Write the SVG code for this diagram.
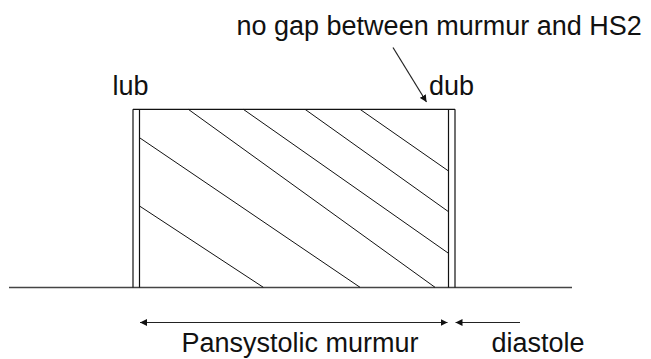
<svg xmlns="http://www.w3.org/2000/svg" width="651" height="359" viewBox="0 0 651 359">
<style>
text{font-family:"Liberation Sans",Arial,sans-serif;font-size:27px;fill:#111}
.ln{stroke:#111;stroke-width:1.2;fill:none}
.hatch{stroke:#111;stroke-width:1;fill:none}
.arr{stroke:#222;stroke-width:1.2;fill:none}
</style>
<defs>
<marker id="ah" viewBox="0 0 10 10" refX="10" refY="5" markerWidth="7" markerHeight="7" markerUnits="userSpaceOnUse" orient="auto-start-reverse">
<path d="M0,0 L10,5 L0,10 z" fill="#111"/>
</marker>
</defs>
<rect width="651" height="359" fill="#fff"/>
<g id="baseline"><line x1="9" y1="287.5" x2="572" y2="287.5" stroke="#444" stroke-width="1.6"/></g>
<g id="murmur-box">
<line class="ln" x1="133" y1="109.3" x2="455" y2="109.3"/>
<line class="ln" x1="133" y1="109.3" x2="133" y2="287.5"/>
<line class="ln" x1="139.5" y1="109.3" x2="139.5" y2="287.5"/>
<line class="ln" x1="448.5" y1="109.3" x2="448.5" y2="287.5"/>
<line class="ln" x1="455" y1="109.3" x2="455" y2="287.5"/>
<line class="hatch" x1="139.5" y1="206" x2="263.3" y2="287.3"/>
<line class="hatch" x1="139.5" y1="137.7" x2="360" y2="287.3"/>
<line class="hatch" x1="188.3" y1="109.3" x2="435" y2="287.3"/>
<line class="hatch" x1="243.3" y1="109.3" x2="448.5" y2="253.3"/>
<line class="hatch" x1="305" y1="109.3" x2="448.5" y2="211.7"/>
<line class="hatch" x1="360" y1="109.3" x2="448.5" y2="171"/>
</g>
<g id="labels">
<text x="236.5" y="35">no gap between murmur and HS2</text>
<text x="112.5" y="95">lub</text>
<text x="429" y="95">dub</text>
<text x="181.5" y="352">Pansystolic murmur</text>
<text x="491.5" y="352">diastole</text>
</g>
<g id="connectors">
<line class="arr" x1="393" y1="47.5" x2="426.5" y2="102" marker-end="url(#ah)"/>
<line class="arr" x1="140" y1="322.5" x2="447.5" y2="322.5" marker-start="url(#ah)" marker-end="url(#ah)"/>
<line class="arr" x1="520" y1="322.5" x2="455.5" y2="322.5" marker-end="url(#ah)"/>
</g>
</svg>
